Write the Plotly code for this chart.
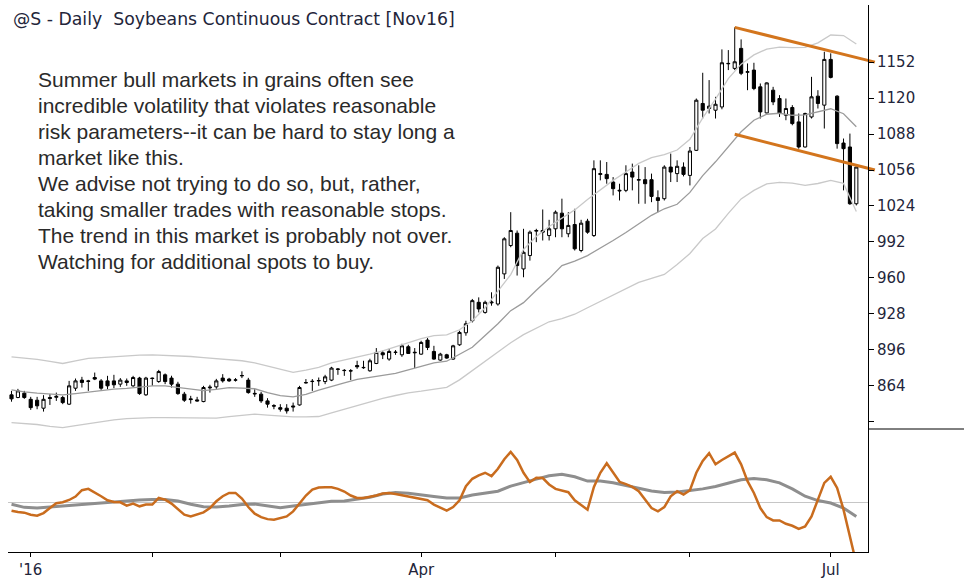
import plotly.graph_objects as go

W, H = 964, 584

# ---- daily soybean sessions (trading-day index 0 = Dec 29 2015) ----
opens = [856.0, 853.6, 857.5, 852.0, 851.2, 844.1, 853.6, 853.8, 853.6, 847.7,
         861.9, 869.1, 868.4, 871.4, 868.4, 868.4, 868.4, 865.5, 868.4, 864.0,
         870.9, 856.0, 870.9, 867.8, 873.8, 870.9, 865.5, 856.6, 852.4, 851.5,
         850.0, 862.2, 863.1, 870.9, 870.0, 869.3, 873.2, 869.1, 857.3, 856.6,
         850.6, 846.4, 844.6, 844.1, 846.1, 847.0, 866.6, 867.8, 868.4, 867.8,
         869.1, 879.0, 877.8, 877.2, 882.1, 880.4, 877.4, 883.9, 893.4, 887.8,
         893.7, 891.6, 898.8, 893.9, 892.2, 904.7, 894.6, 886.9, 891.6, 887.8,
         900.5, 911.2, 921.9, 938.3, 929.3, 937.8, 936.8, 963.6, 988.8, 999.8,
         968.0, 979.9, 1001.6, 1002.2, 997.7, 1003.7, 1017.6, 999.3, 1007.5, 984.4,
         1010.5, 997.7, 1052.0, 1052.1, 1045.3, 1037.3, 1037.9, 1054.2, 1047.0, 1047.4,
         1047.4, 1031.4, 1030.5, 1058.6, 1052.8, 1058.6, 1051.2, 1073.5, 1115.2, 1110.7,
         1109.2, 1112.1, 1150.5, 1146.4, 1164.2, 1143.0, 1144.9, 1130.0, 1106.8, 1127.0,
         1119.6, 1104.7, 1111.6, 1098.8, 1076.5, 1103.2, 1121.7, 1113.7, 1154.4, 1121.7,
         1080.0, 1076.5, 1026.0]
highs = [859.5, 861.3, 859.5, 854.2, 854.2, 855.7, 856.6, 858.0, 855.1, 868.4,
         870.5, 872.0, 869.3, 875.8, 870.0, 872.9, 873.8, 870.9, 870.5, 872.9,
         872.0, 872.0, 871.4, 878.2, 875.0, 873.0, 867.6, 858.6, 855.1, 854.2,
         864.0, 864.9, 870.2, 874.4, 871.1, 870.9, 876.9, 871.1, 861.0, 858.6,
         853.0, 847.7, 847.7, 847.7, 849.1, 864.0, 870.0, 870.0, 871.4, 873.8,
         880.9, 879.8, 878.9, 878.9, 886.3, 886.3, 888.1, 897.6, 895.2, 897.0,
         895.8, 901.4, 900.5, 897.6, 904.1, 906.5, 899.6, 893.4, 892.5, 900.5,
         913.0, 921.9, 941.3, 942.7, 939.8, 947.2, 971.0, 996.2, 1018.5, 1002.2,
         1003.7, 1002.2, 1003.7, 1020.9, 1011.7, 1020.0, 1030.5, 1018.5, 1021.5, 1011.7,
         1012.6, 1064.6, 1064.6, 1063.1, 1049.7, 1043.8, 1060.2, 1061.7, 1060.2, 1058.6,
         1052.8, 1037.9, 1060.2, 1070.6, 1064.6, 1062.8, 1076.5, 1119.6, 1142.5, 1136.0,
         1121.1, 1163.3, 1162.7, 1182.9, 1172.2, 1150.8, 1151.4, 1133.0, 1134.0, 1130.0,
         1122.6, 1119.6, 1113.7, 1106.3, 1107.0, 1138.9, 1127.0, 1161.2, 1159.8, 1122.5,
         1084.0, 1088.4, 1059.0]
lows = [849.9, 853.0, 852.4, 842.6, 843.2, 841.1, 847.0, 850.6, 847.7, 847.0,
        859.5, 862.5, 859.5, 869.1, 860.4, 861.0, 861.9, 863.1, 864.0, 863.1,
        856.0, 855.1, 864.0, 866.7, 865.5, 862.5, 856.0, 849.7, 848.2, 850.0,
        849.4, 858.0, 861.3, 866.9, 867.5, 867.8, 870.9, 857.0, 854.2, 848.8,
        844.6, 843.2, 841.1, 839.3, 841.1, 846.4, 866.0, 859.5, 864.0, 865.5,
        868.2, 873.8, 872.9, 869.1, 879.1, 879.1, 876.5, 883.3, 887.8, 886.3,
        891.6, 889.8, 892.5, 879.8, 891.6, 895.8, 887.2, 886.3, 888.1, 887.2,
        899.6, 908.6, 920.4, 929.3, 928.2, 935.3, 935.3, 959.1, 987.3, 962.1,
        960.6, 975.4, 991.8, 993.3, 993.3, 996.2, 996.2, 996.2, 984.4, 982.8,
        999.3, 996.5, 1046.8, 1043.8, 1033.4, 1028.9, 1036.3, 1037.9, 1026.0, 1026.0,
        1027.4, 1018.5, 1028.9, 1045.3, 1045.3, 1050.3, 1042.3, 1072.9, 1101.8, 1106.3,
        1101.8, 1110.0, 1144.9, 1144.9, 1140.4, 1127.0, 1127.0, 1101.8, 1106.3, 1113.7,
        1103.2, 1100.3, 1095.8, 1075.0, 1076.0, 1101.8, 1110.7, 1092.9, 1137.5, 1075.0,
        1037.9, 1025.0, 1024.5]
closes = [852.4, 859.5, 853.6, 844.6, 846.2, 852.0, 852.8, 854.6, 849.1, 864.0,
          868.4, 867.0, 868.0, 870.0, 861.9, 864.0, 864.9, 869.1, 867.0, 871.4,
          857.1, 870.9, 870.5, 876.7, 867.8, 865.5, 857.1, 851.2, 851.8, 850.6,
          862.5, 862.8, 868.4, 868.4, 868.4, 869.1, 873.0, 858.0, 856.9, 850.6,
          847.7, 846.0, 843.2, 841.7, 845.3, 862.5, 866.9, 868.0, 868.7, 872.0,
          879.8, 878.7, 877.6, 877.4, 880.9, 880.2, 886.3, 893.7, 891.6, 894.6,
          893.9, 899.6, 892.8, 893.5, 902.6, 898.1, 887.8, 892.2, 888.7, 899.6,
          911.5, 919.2, 939.8, 932.4, 938.3, 938.5, 969.5, 994.8, 1002.2, 971.0,
          982.8, 1000.7, 1002.2, 1000.7, 1003.7, 1018.5, 1003.7, 1006.7, 985.9, 1008.7,
          1000.7, 1057.2, 1052.8, 1048.3, 1039.4, 1037.9, 1052.8, 1049.7, 1047.4, 1043.8,
          1032.5, 1028.9, 1058.6, 1054.2, 1059.3, 1052.1, 1072.9, 1118.1, 1109.2, 1112.8,
          1114.5, 1151.4, 1150.8, 1152.3, 1142.0, 1143.4, 1128.5, 1107.7, 1133.5, 1116.6,
          1106.3, 1110.7, 1097.3, 1076.5, 1106.3, 1121.1, 1115.2, 1154.4, 1138.4, 1079.5,
          1075.0, 1026.0, 1058.6]
days = list(range(len(closes)))

# month boundaries on the session index
month_ticks = [3, 22, 42, 64, 85, 106, 128]
month_text = ["'16", "", "", "Apr", "", "", "Jul"]

# price channel (every second session)
band_days = list(range(0, 133, 2))
upper_band = [889.8, 888.7, 887.5, 885.7, 883.9, 886.3, 888.5, 889.1, 889.9, 890.7,
              891.4, 891.6, 891.2, 890.7, 890.1, 889.1, 888.1, 887.1, 886.3, 884.5,
              881.8, 878.7, 875.9, 878.0, 880.4, 884.4, 886.8, 889.7, 892.2, 895.2,
              898.8, 902.5, 906.1, 908.7, 909.3, 913.9, 921.9, 933.5, 948.7, 963.0,
              985.3, 996.8, 1005.8, 1012.9, 1020.5, 1029.8, 1038.4, 1046.8, 1054.3, 1061.9,
              1067.0, 1069.7, 1073.8, 1083.3, 1102.4, 1119.0, 1137.3, 1150.2, 1158.4, 1163.6,
              1165.4, 1164.9, 1165.1, 1169.1, 1176.1, 1175.6, 1168.1]
mid_band = [860.4, 858.6, 857.5, 856.7, 856.0, 857.1, 858.6, 859.8, 861.0, 861.8,
            862.9, 864.0, 864.0, 862.6, 861.2, 859.8, 860.8, 862.4, 862.0, 861.4,
            857.9, 855.2, 854.2, 856.5, 860.2, 863.7, 866.7, 869.7, 871.5, 873.6,
            875.1, 878.1, 881.4, 884.5, 885.9, 891.9, 898.3, 908.7, 919.3, 930.9,
            938.0, 949.1, 959.4, 971.0, 975.0, 979.9, 986.3, 993.3, 1000.4, 1007.8,
            1015.7, 1021.5, 1025.5, 1036.1, 1051.0, 1063.3, 1076.2, 1090.0, 1100.3, 1105.6,
            1106.5, 1104.7, 1105.1, 1107.9, 1110.5, 1106.1, 1094.5]
lower_band = [831.3, 830.5, 829.6, 828.0, 826.8, 828.6, 830.5, 832.0, 833.7, 834.9,
              835.4, 835.7, 835.7, 835.7, 835.7, 835.4, 835.2, 836.6, 837.9, 838.8,
              837.9, 837.1, 836.3, 836.3, 836.7, 840.0, 843.3, 846.6, 849.7, 852.8,
              855.4, 857.8, 859.2, 861.0, 862.6, 869.3, 877.4, 885.4, 894.3, 902.3,
              909.5, 915.3, 921.0, 923.7, 927.7, 933.5, 939.2, 944.7, 950.5, 956.1,
              959.7, 963.1, 971.9, 981.7, 995.1, 1003.5, 1017.4, 1030.3, 1037.9, 1043.7,
              1045.0, 1044.3, 1042.3, 1044.0, 1046.8, 1044.1, 1019.1]

# drawn channel (session index, price)
trend_days = [113, 134.9]
trend_top = [1182.9, 1152.0]
trend_bottom = [1087.8, 1056.0]

price_ticks = [832, 864, 896, 928, 960, 992, 1024, 1056, 1088, 1120, 1152]
price_text = [""] + [str(v) for v in price_ticks[1:]]

# momentum oscillator and its smoothing
osc = [-8.3, -9.7, -10.3, -12.3, -13.3, -10.7, -5.7, -1.0, 0.0, 2.3,
       5.7, 12.0, 13.3, 10.0, 6.0, 2.0, 0.3, 0.0, -3.3, -1.3,
       -4.0, -2.3, -2.3, 4.3, 2.7, -1.3, -7.3, -12.3, -14.0, -11.7,
       -10.0, -5.7, 1.0, 6.0, 9.3, 9.3, 3.7, -4.7, -11.3, -14.7,
       -16.7, -17.3, -15.7, -14.0, -9.0, -1.3, 6.7, 12.7, 14.7, 15.0,
       15.0, 13.3, 10.7, 6.7, 4.3, 4.3, 5.3, 6.7, 8.7, 9.3,
       8.3, 7.0, 5.7, 4.3, 3.7, 2.0, -2.3, -5.7, -8.3, -4.7,
       2.0, 16.0, 23.3, 26.7, 29.3, 26.0, 33.3, 42.7, 50.0, 42.0,
       29.3, 20.0, 24.3, 24.0, 17.7, 13.3, 11.7, 10.0, 2.0, -2.3,
       -7.3, 15.3, 29.3, 38.7, 29.0, 20.3, 18.0, 15.3, 11.0, 2.7,
       -5.7, -9.0, -4.7, 6.0, 11.0, 7.7, 12.0, 29.3, 41.0, 48.7,
       37.7, 42.0, 46.0, 49.3, 37.7, 21.0, 9.3, -5.7, -14.7, -18.0,
       -18.0, -21.3, -23.3, -26.3, -24.0, -14.0, 2.7, 19.3, 25.3, 14.3,
       -7.3, -35.7, -60.7]
osc_signal = [-2.0, -5.0, -5.7, -4.7, -3.7, -2.7, -1.7, -0.7, 0.7, 1.7,
              2.3, 2.7, 2.7, 1.3, -2.0, -4.3, -4.7, -3.7, -2.3, -1.7,
              -3.3, -5.3, -3.7, -2.0, -0.3, 1.0, 1.3, 3.0, 5.0, 8.3,
              9.7, 9.0, 7.7, 5.7, 4.3, 4.3, 7.3, 9.0, 11.0, 16.0,
              19.7, 23.0, 26.3, 27.7, 25.3, 21.0, 21.0, 19.3, 16.7, 14.3,
              11.3, 9.7, 10.3, 11.7, 13.3, 15.7, 19.0, 22.3, 23.7, 22.3,
              19.3, 13.3, 6.0, 1.7, -0.7, -5.7, -14.0]

# ---- layout geometry ----
PX_PER_DAY = 6.4
LEFT, AXIS_X, TREND_END_X = 8, 868, 876
TOP, SPLIT, BOTTOM = 5, 429, 552
first_day = -0.55


def fx(p):
    return p / W


def fy(p):
    return 1 - p / H


ink = "#23253a"
axis_font = dict(family="DejaVu Sans", size=15, color=ink)

fig = go.Figure()

fig.add_trace(go.Candlestick(
    x=days, open=opens, high=highs, low=lows, close=closes,
    increasing=dict(line=dict(color="black", width=1), fillcolor="white"),
    decreasing=dict(line=dict(color="black", width=1), fillcolor="black"),
    whiskerwidth=0, xaxis="x", yaxis="y", hoverinfo="skip",
))
for vals, col in ((upper_band, "#c9c9c9"), (lower_band, "#c9c9c9"), (mid_band, "#9b9b9b")):
    fig.add_trace(go.Scatter(x=band_days, y=vals, mode="lines",
                             line=dict(color=col, width=1.3),
                             xaxis="x", yaxis="y", hoverinfo="skip"))
for vals in (trend_top, trend_bottom):
    fig.add_trace(go.Scatter(x=trend_days, y=vals, mode="lines",
                             line=dict(color="#d3751d", width=3),
                             xaxis="x", yaxis="y", hoverinfo="skip"))

fig.add_trace(go.Scatter(x=band_days, y=osc_signal, mode="lines",
                         line=dict(color="#8e8e8e", width=3),
                         xaxis="x2", yaxis="y2", hoverinfo="skip"))
fig.add_trace(go.Scatter(x=days, y=osc, mode="lines",
                         line=dict(color="#c96c1e", width=2.5),
                         xaxis="x2", yaxis="y2", hoverinfo="skip"))

# commentary text
note_lines = [
    "Summer bull markets in grains often see",
    "incredible volatility that violates reasonable",
    "risk parameters--it can be hard to stay long a",
    "market like this.",
    "We advise not trying to do so, but, rather,",
    "taking smaller trades with reasonable stops.",
    "The trend in this market is probably not over.",
    "Watching for additional spots to buy.",
]
annotations = [dict(
    text="@S - Daily  Soybeans Continuous Contract [Nov16]",
    x=fx(11), y=fy(19), xref="paper", yref="paper",
    xanchor="left", yanchor="middle", showarrow=False,
    font=dict(family="DejaVu Sans", size=17.3, color=ink),
)]
for k, line in enumerate(note_lines):
    annotations.append(dict(
        text=line, x=fx(36), y=fy(79 + 26.0 * k), xref="paper", yref="paper",
        xanchor="left", yanchor="middle", showarrow=False,
        font=dict(family="Liberation Sans", size=21, color="#2a2a2a"),
    ))

fig.update_layout(
    width=W, height=H, margin=dict(l=0, r=0, t=0, b=0),
    paper_bgcolor="white", plot_bgcolor="white", showlegend=False,
    boxgap=0.3,
    xaxis=dict(domain=[fx(LEFT), fx(TREND_END_X)],
               range=[first_day, first_day + (TREND_END_X - LEFT) / PX_PER_DAY],
               visible=False, rangeslider=dict(visible=False), anchor="y"),
    yaxis=dict(domain=[fy(SPLIT), fy(TOP)], range=[825.6, 1202.8],
               anchor="free", position=fx(AXIS_X), side="right",
               showline=True, linecolor="black", linewidth=1,
               ticks="outside", ticklen=5, tickcolor="black",
               tickvals=price_ticks, ticktext=price_text, tickfont=axis_font,
               showgrid=False, zeroline=False),
    xaxis2=dict(domain=[fx(LEFT), fx(AXIS_X)],
                range=[first_day, first_day + (AXIS_X - LEFT) / PX_PER_DAY],
                anchor="y2", showline=True, linecolor="black", linewidth=1,
                ticks="outside", ticklen=4, tickcolor="black",
                tickvals=month_ticks, ticktext=month_text, tickfont=axis_font,
                showgrid=False, zeroline=False),
    yaxis2=dict(domain=[fy(BOTTOM), fy(SPLIT)], range=[-49.3, 72.7],
                anchor="x2", side="right", showline=True, linecolor="black",
                linewidth=1, ticks="", showticklabels=False, showgrid=False,
                zeroline=True, zerolinecolor="#c6c6c6", zerolinewidth=1),
    shapes=[dict(type="line", xref="paper", yref="paper",
                 x0=fx(AXIS_X), x1=1, y0=fy(SPLIT), y1=fy(SPLIT),
                 line=dict(color="black", width=1))],
    annotations=annotations,
)

fig.write_html("out.html", config=dict(displayModeBar=False))
